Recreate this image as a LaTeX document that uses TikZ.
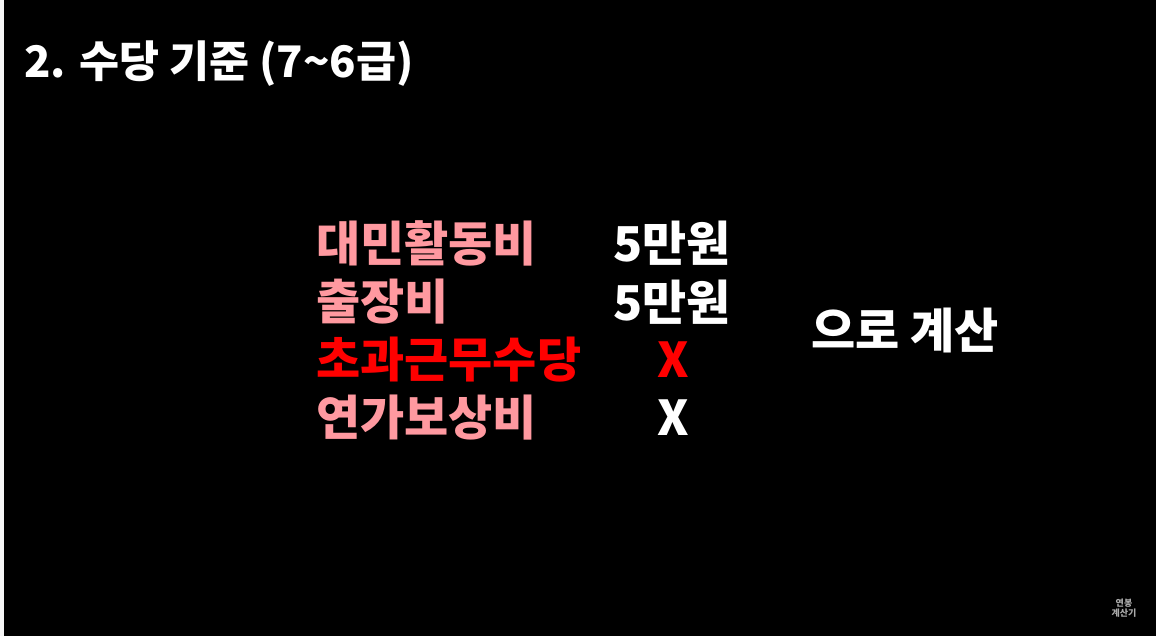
\documentclass[tikz,border=0pt]{standalone}
\usepackage{fontspec}
\setmainfont{Noto Sans CJK KR}
\usetikzlibrary{positioning}
\definecolor{bgcolor}{RGB}{0, 0, 0}
\definecolor{edgecolor}{RGB}{246, 246, 246}
\definecolor{pinkcolor}{RGB}{255, 153, 160}
\definecolor{redcolor}{RGB}{255, 0, 0}
\definecolor{logocolor}{RGB}{170, 170, 170}

\begin{document}
\begin{tikzpicture}[
    x=1pt, y=1pt,
    titlebox/.style={inner sep=0pt, anchor=west, text=white, font=\fontsize{43.5}{47}\selectfont\bfseries},
    item/.style={inner sep=0pt, anchor=west, text=pinkcolor, font=\fontsize{48}{52}\selectfont\bfseries},
    value/.style={inner sep=0pt, text=white, font=\fontsize{48}{52}\selectfont\bfseries},
    logo/.style={inner sep=0pt, text=logocolor, font=\fontsize{9}{10}\selectfont\bfseries},
]

% ============ 배경 ============
\fill[bgcolor] (0,0) rectangle (1156,636);
\fill[edgecolor] (0,0) rectangle (4,636);
\useasboundingbox (0,0) rectangle (1156,636);

% ============ 제목 ============
\node[titlebox] (title) at (24,572) {2. 수당 기준 (7\textasciitilde 6급)};

% ============ 항목 (왼쪽) ============
\node[item] (item_daemin) at (316,393) {대민활동비};
\node[item] (item_chuljang) at (316,334) {출장비};
\node[item, text=redcolor] (item_chogwa) at (316,276) {초과근무수당};
\node[item] (item_yeonga) at (316,218) {연가보상비};

% ============ 금액 (가운데) ============
\node[value] (val_daemin) at (672,393) {5만원};
\node[value] (val_chuljang) at (672,334) {5만원};
\node[value, text=redcolor] (val_chogwa) at (673,276) {X};
\node[value] (val_yeonga) at (673,218) {X};

% ============ 오른쪽 ============
\node[value] (calc) at (905,305) {으로 계산};

% ============ 로고 ============
\node[logo] (logo_top) at (1124,33) {연봉};
\node[logo, below=1pt of logo_top] (logo_bottom) {계산기};

\end{tikzpicture}
\end{document}
